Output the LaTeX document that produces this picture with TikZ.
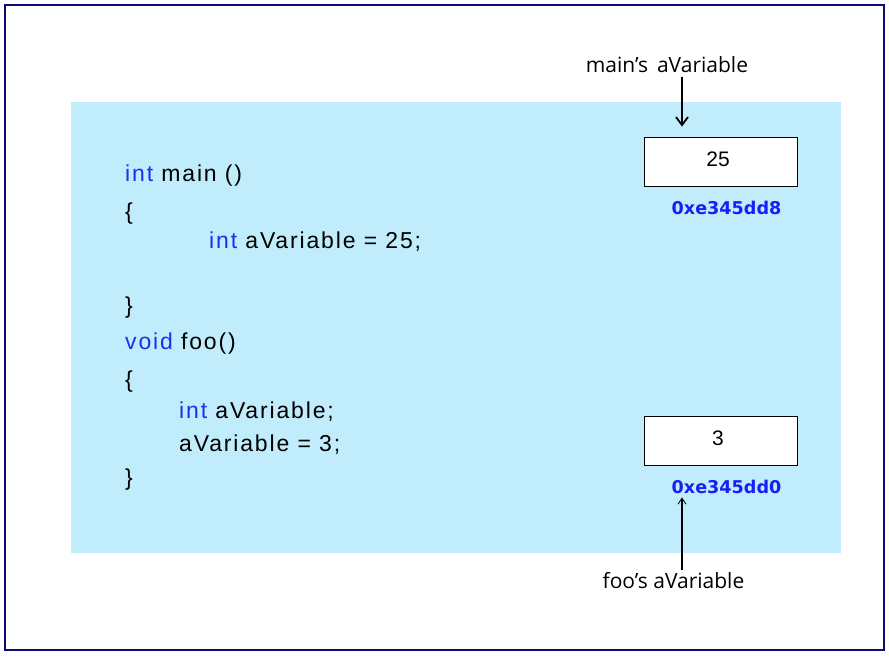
\documentclass[tikz,border=0pt]{standalone}
\usepackage{fontspec}
\setmainfont{Liberation Sans}
\newfontfamily\codefont[LetterSpace=8]{Liberation Sans}
\newfontfamily\lblfont{Open Sans}
\newfontfamily\addrfont{DejaVu Sans}
\usetikzlibrary{arrows.meta}
\definecolor{navyb}{RGB}{10,10,120}
\definecolor{panel}{RGB}{192,236,251}
\definecolor{kw}{RGB}{30,45,240}
\definecolor{addr}{RGB}{25,30,245}
\newcommand{\kwd}[1]{\textcolor{kw}{#1}}
\tikzset{
  codeline/.style={anchor=base west, inner sep=0pt, font=\codefont\fontsize{23}{26}\selectfont},
  cell/.style={draw=black, line width=0.9pt, fill=white, minimum width=153pt, minimum height=49pt, inner sep=0pt},
  cellval/.style={anchor=base, inner sep=0pt, font=\fontsize{21}{24}\selectfont},
  addrlbl/.style={anchor=base, inner sep=0pt, text=addr, font=\addrfont\bfseries\fontsize{17.6}{20}\selectfont},
  varlbl/.style={anchor=base, inner sep=0pt, font=\lblfont\fontsize{21}{24}\selectfont},
  ptr/.style={line width=2pt, -{Straight Barb[length=8pt, width=12pt, line width=1.8pt]}},
  ptrthin/.style={line width=1.8pt, -{Straight Barb[length=6pt, width=8pt, line width=0.8pt]}}
}
\begin{document}
\begin{tikzpicture}[x=1pt, y=-1pt]
\useasboundingbox (0,0) rectangle (889,659);
\fill[white] (0,0) rectangle (889,659);
\draw[navyb, line width=2pt] (5,5) rectangle (884,650);
\fill[panel] (71,102) rectangle (841,553);
% code
\node[codeline] (l1) at (125,181.5) {\kwd{int} main ()};
\node[codeline] (l2) at (125,219.5) {\{};
\node[codeline] (l3) at (209,248.5) {\kwd{int} aVariable = 25;};
\node[codeline] (l4) at (125,313.5) {\}};
\node[codeline] (l5) at (125,349.5) {\kwd{void} foo()};
\node[codeline] (l6) at (125,387.5) {\{};
\node[codeline] (l7) at (179,418.5) {\kwd{int} aVariable;};
\node[codeline] (l8) at (179,451.5) {aVariable = 3;};
\node[codeline] (l9) at (125,485.5) {\}};
% cells
\node[cell] (c1) at (720.5,161.5) {};
\node[cell] (c2) at (720.5,440.5) {};
\node[cellval] (v1) at (718,166.5) {25};
\node[cellval] (v2) at (718,445.5) {3};
\node[addrlbl] (a1) at (726.5,214) {0xe345dd8};
\node[addrlbl] (a2) at (726.5,493) {0xe345dd0};
% labels
\node[varlbl] (m) at (667,72.5) {main’s\, aVariable};
\node[varlbl] (f) at (673.5,588) {foo’s aVariable};
\coordinate (ax) at (682,0);
\draw[ptr] ([yshift=-4pt]m.south -| ax) -- ([yshift=10pt]c1.north -| ax);
\draw[ptrthin] ([yshift=2pt]f.north -| ax) -- ([yshift=-4pt]a2.south -| ax);
\end{tikzpicture}
\end{document}
